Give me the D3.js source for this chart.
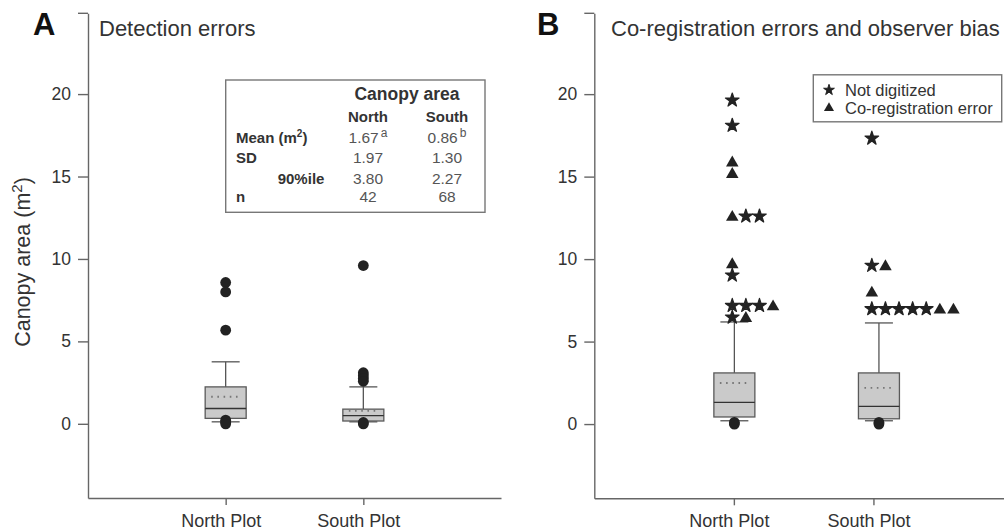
<!DOCTYPE html>
<html><head><meta charset="utf-8">
<script src="https://cdn.jsdelivr.net/npm/d3@7"></script>
<style>
body{margin:0;background:#fff;}
text{font-family:"Liberation Sans",Arial,sans-serif;}
</style></head>
<body><svg id="c" width="1004" height="530"></svg>
<script>
// ---------- data ----------
const categories = ["North Plot", "South Plot"];
const yTicks = [0, 5, 10, 15, 20];
const yDomain = [-4.5, 24.9];

// Panel A: detection errors (box stats: whiskerLow, q1, median, q3, whiskerHigh, mean)
const aLow    = [0.12, 0.12];
const aQ1     = [0.33, 0.17];
const aMedian = [0.93, 0.50];
const aQ3     = [2.24, 0.89];
const aHigh   = [3.76, 2.24];
const aMean   = [1.64, 0.78];
const aOutNorth = [8.57, 8.0, 5.68, 0.22, 0.1, 0.0];
const aOutSouth = [9.6, 3.1, 2.92, 2.75, 2.58, 0.08, 0.0];

// Panel B: co-registration errors and observer bias
const bLow    = [0.2, 0.2];
const bQ1     = [0.43, 0.32];
const bMedian = [1.31, 1.07];
const bQ3     = [3.1, 3.1];
const bHigh   = [6.19, 6.13];
const bMean   = [2.49, 2.19];
const bCircNorth = [0.1, 0.0];
const bCircSouth = [0.1, 0.0];
const bNorthValues = [19.63, 18.1, 15.9, 15.2, 12.6, 12.6, 12.6, 9.73, 9.02, 7.18, 7.18, 7.18, 7.18, 6.47, 6.47];
const bNorthTypes  = ["star","star","tri","tri","tri","star","star","tri","star","star","star","star","tri","star","tri"];
const bSouthValues = [17.32, 9.61, 9.61, 8.01, 6.98, 6.98, 6.98, 6.98, 6.98, 6.98, 6.98];
const bSouthTypes  = ["star","star","tri","tri","star","star","star","star","star","tri","tri"];

const legendLabels = ["Not digitized", "Co-registration error"];
const legendTypes = ["star", "tri"];

const tableTitle = "Canopy area";
const tableCols = ["North", "South"];
const tableRows = ["Mean", "SD", "90%ile", "n"];
const tableNorth = ["1.67", "1.97", "3.80", "42"];
const tableSouth = ["0.86", "1.30", "2.27", "68"];
const tableSup = ["a", "b"];

// ---------- drawing ----------
const svg = d3.select("#c");
const axisCol = "#666";
const symStar = d3.symbol().type(d3.symbolStar).size(58);
const symTri = d3.symbol().type(d3.symbolTriangle).size(68);

function panel(opt) {
  const g = svg.append("g");
  const x = d3.scalePoint().domain(categories).range([opt.x0, opt.x1]).padding(1);
  const y = d3.scaleLinear().domain(yDomain).range([opt.yBottom, 13.3]);

  // y axis
  const ya = g.append("g").attr("transform", `translate(${opt.x0},0)`)
    .call(d3.axisLeft(y).tickValues(yTicks).tickSize(10).tickPadding(7).tickSizeOuter(0));
  ya.selectAll("path,line").attr("stroke", axisCol).attr("stroke-width", 1.4);
  ya.selectAll("text").attr("font-size", 17.5).attr("fill", "#333");
  g.append("line").attr("x1", opt.x0 - 10).attr("x2", opt.x0)
    .attr("y1", y(yDomain[1])).attr("y2", y(yDomain[1]))
    .attr("stroke", axisCol).attr("stroke-width", 1.4);

  // x axis
  const xa = g.append("g").attr("transform", `translate(0,${opt.yBottom})`)
    .call(d3.axisBottom(x).tickSize(7).tickPadding(9).tickSizeOuter(0));
  xa.selectAll("path,line").attr("stroke", axisCol).attr("stroke-width", 1.4);
  xa.selectAll("text").attr("font-size", 18).attr("fill", "#333").attr("dx", -5);

  // boxes
  const bw = 41, cw = 28;
  categories.forEach((c, i) => {
    const cx = x(c) + (opt.boxShift ? opt.boxShift[i] : 0);
    const bg = g.append("g");
    bg.append("line").attr("x1", cx).attr("x2", cx).attr("y1", y(opt.q3[i])).attr("y2", y(opt.high[i]))
      .attr("stroke", "#555").attr("stroke-width", 1.3);
    bg.append("line").attr("x1", cx).attr("x2", cx).attr("y1", y(opt.q1[i])).attr("y2", y(opt.low[i]))
      .attr("stroke", "#555").attr("stroke-width", 1.3);
    [opt.high[i], opt.low[i]].forEach(v => {
      bg.append("line").attr("x1", cx - cw / 2).attr("x2", cx + cw / 2).attr("y1", y(v)).attr("y2", y(v))
        .attr("stroke", "#555").attr("stroke-width", 1.3);
    });
    bg.append("rect").attr("x", cx - bw / 2).attr("width", bw)
      .attr("y", y(opt.q3[i])).attr("height", y(opt.q1[i]) - y(opt.q3[i]))
      .attr("fill", "#cacaca").attr("stroke", "#5a5a5a").attr("stroke-width", 1.3);
    bg.append("line").attr("x1", cx - bw / 2).attr("x2", cx + bw / 2)
      .attr("y1", y(opt.median[i])).attr("y2", y(opt.median[i]))
      .attr("stroke", "#333").attr("stroke-width", 1.3);
    bg.append("line").attr("x1", cx - bw / 2 + 6).attr("x2", cx + bw / 2 - 4)
      .attr("y1", y(opt.mean[i])).attr("y2", y(opt.mean[i]))
      .attr("stroke", "#777").attr("stroke-width", 1.8).attr("stroke-dasharray", "1.6,4.6");
    // circles
    g.selectAll(null).data(opt.circles[i]).join("circle")
      .attr("cx", cx).attr("cy", d => y(d)).attr("r", 5.4).attr("fill", "#222");
  });

  // panel letter and title
  g.append("text").attr("x", opt.letterX).attr("y", 35).text(opt.letter)
    .attr("font-size", 31).attr("font-weight", "bold").attr("fill", "#111");
  g.append("text").attr("x", opt.titleX).attr("y", 36).text(opt.title)
    .attr("font-family", "'Open Sans', sans-serif").attr("font-size", 22).attr("fill", "#333");
  return {g, x, y};
}

// Panel A
const A = panel({x0: 88, x1: 501, yBottom: 498, low: aLow, q1: aQ1, median: aMedian, q3: aQ3, high: aHigh, mean: aMean,
  circles: [aOutNorth, aOutSouth], letter: "A", letterX: 33, title: "Detection errors", titleX: 99});

// y label
svg.append("text").attr("transform", "translate(30,262) rotate(-90)").attr("text-anchor", "middle")
  .attr("font-size", 21.5).attr("fill", "#333")
  .html('Canopy area (m<tspan font-size="15" dy="-8">2</tspan><tspan dy="8">)</tspan>');

// Table
(function () {
  const g = A.g;
  g.append("rect").attr("x", 225.7).attr("y", 80).attr("width", 259.3).attr("height", 132.3)
    .attr("fill", "#fff").attr("stroke", "#777").attr("stroke-width", 1.4);
  g.append("text").attr("x", 407).attr("y", 100).attr("text-anchor", "middle").text(tableTitle)
    .attr("font-size", 17.5).attr("font-weight", "bold").attr("fill", "#333");
  const colX = [368, 447];
  tableCols.forEach((c, i) => g.append("text").attr("x", colX[i]).attr("y", 121.7).attr("text-anchor", "middle")
    .text(c).attr("font-size", 15).attr("font-weight", "bold").attr("fill", "#333"));
  const rowY = [143.3, 162.7, 184, 202.3];
  const rowX = [236, 236, 277.7, 236];
  tableRows.forEach((r, i) => {
    const t = g.append("text").attr("x", rowX[i]).attr("y", rowY[i]).attr("font-size", 15)
      .attr("font-weight", "bold").attr("fill", "#333");
    if (i === 0) {
      t.html(r + ' (m<tspan font-size="10" dy="-6">2</tspan><tspan dy="6">)</tspan>');
    } else t.text(r);
    [tableNorth, tableSouth].forEach((col, j) => {
      const n = g.append("text").attr("x", colX[j]).attr("y", rowY[i]).attr("text-anchor", "middle")
        .attr("font-size", 15.5).attr("fill", "#555");
      if (i === 0) n.html(col[i] + '<tspan font-size="12" dx="2" dy="-6">' + tableSup[j] + '</tspan>');
      else n.text(col[i]);
    });
  });
})();

// Panel B
const B = panel({x0: 594.3, x1: 1013, yBottom: 498.3, low: bLow, q1: bQ1, median: bMedian, q3: bQ3, high: bHigh, mean: bMean,
  circles: [bCircNorth, bCircSouth], boxShift: [0.5, 5.5], letter: "B", letterX: 537, title: "Co-registration errors and observer bias", titleX: 611});

// B markers with horizontal dodge for equal values
function drawMarkers(values, types, cat) {
  const seen = {};
  values.forEach((v, i) => {
    const k = v.toFixed(2);
    const idx = seen[k] || 0; seen[k] = idx + 1;
    const px = B.x(cat) - 1.6 + idx * 13.6;
    const py = B.y(v);
    const isStar = types[i] === "star";
    B.g.append("path").attr("d", isStar ? symStar() : symTri())
      .attr("transform", `translate(${px},${py + (isStar ? 0 : 1)})`).attr("fill", "#222")
      .attr("stroke", isStar ? "#222" : "none").attr("stroke-width", 1.2).attr("stroke-linejoin", "round");
  });
}
drawMarkers(bNorthValues, bNorthTypes, categories[0]);
drawMarkers(bSouthValues, bSouthTypes, categories[1]);

// Legend
(function () {
  const g = B.g;
  g.append("rect").attr("x", 813.3).attr("y", 74.8).attr("width", 188.4).attr("height", 47)
    .attr("fill", "#fff").attr("stroke", "#777").attr("stroke-width", 1.4);
  const ly = [90, 108];
  legendLabels.forEach((l, i) => {
    const isStar = legendTypes[i] === "star";
    g.append("path").attr("d", (isStar ? d3.symbol().type(d3.symbolStar).size(36) : d3.symbol().type(d3.symbolTriangle).size(44))())
      .attr("transform", `translate(829,${ly[i]})`).attr("fill", "#222")
      .attr("stroke", isStar ? "#222" : "none").attr("stroke-width", 1).attr("stroke-linejoin", "round");
    g.append("text").attr("x", 845).attr("y", ly[i] + 5.5).text(l).attr("font-size", 16.5).attr("fill", "#333");
  });
})();
</script></body></html>
